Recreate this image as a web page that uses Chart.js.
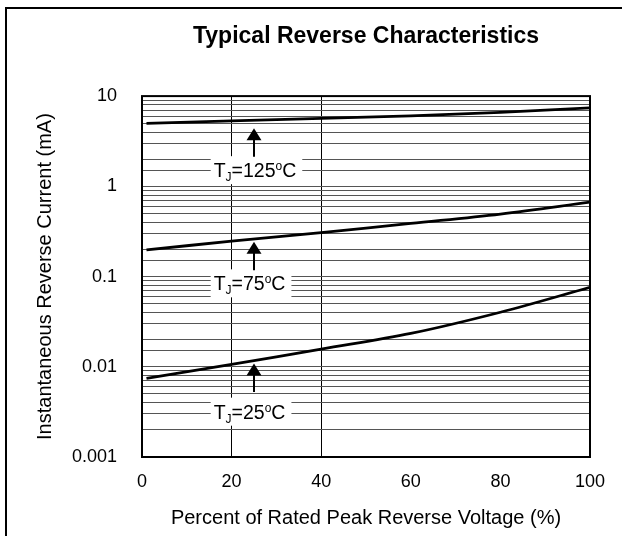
<!DOCTYPE html>
<html><head><meta charset="utf-8">
<script src="https://cdn.jsdelivr.net/npm/chart.js@4"></script>
<style>
html,body{margin:0;padding:0;background:#fff;}
#wrap{position:relative;width:622px;height:536px;overflow:hidden;background:#fff;}
#frame{position:absolute;left:5px;top:7px;width:700px;height:700px;border-left:2px solid #000;border-top:2px solid #000;pointer-events:none;}
canvas{position:absolute;left:0;top:0;}
</style></head><body>
<div id="wrap"><canvas id="c" width="622" height="536"></canvas><div id="frame"></div></div>
<script>
// ---- data ----
const xValues = [1, 20, 40, 60, 80, 100];
const current125 = [4.98, 5.32, 5.66, 6.05, 6.60, 7.42];
const current75 = [0.197, 0.247, 0.306, 0.388, 0.493, 0.669];
const current25 = [0.00745, 0.0106, 0.0157, 0.0234, 0.0402, 0.0759];
const yTickLabels = ['0.001', '0.01', '0.1', '1', '10'];
const xTickLabels = ['0', '20', '40', '60', '80', '100'];
const xGridValues = [20, 40];
const annTemps = ['125', '75', '25'];
const annArrowX = [25, 25, 25];
const annTipY = [4.39, 0.243, 0.0109];
const annTextX = [16, 16, 16];
const annTextY = [1.51, 0.0841, 0.00318];

const FONT = '"Liberation Sans", Arial, sans-serif';

function pts(ys) { return xValues.map((x, i) => ({x: x, y: ys[i]})); }

const annotationPlugin = {
  id: 'ann',
  afterDatasetsDraw(chart) {
    const {ctx, scales: {x, y}} = chart;
    ctx.save();
    annTemps.forEach((t, i) => {
      const ax = Math.round(x.getPixelForValue(annArrowX[i]));
      const tip = y.getPixelForValue(annTipY[i]);
      const tx = x.getPixelForValue(annTextX[i]);
      const tyc = y.getPixelForValue(annTextY[i]);
      const big = '19.5px ' + FONT, small = '12px ' + FONT;
      const parts = [
        {s: 'T', f: big, dy: 0},
        {s: 'J', f: small, dy: 4},
        {s: '=' + t, f: big, dy: 0},
        {s: 'o', f: small, dy: -7},
        {s: 'C', f: big, dy: 0}
      ];
      let w = 0;
      parts.forEach(p => { ctx.font = p.f; p.w = ctx.measureText(p.s).width; w += p.w; });
      ctx.fillStyle = '#fff';
      ctx.fillRect(tx - 3, tyc - 14, w + 9, 28);
      ctx.fillStyle = '#000';
      ctx.textBaseline = 'alphabetic';
      ctx.textAlign = 'left';
      let cx = tx;
      const base = tyc + 7;
      parts.forEach(p => { ctx.font = p.f; ctx.fillText(p.s, cx, base + p.dy); cx += p.w; });
      // arrow
      ctx.strokeStyle = '#000';
      ctx.lineWidth = 2;
      ctx.beginPath();
      ctx.moveTo(ax, tip + 10);
      ctx.lineTo(ax, tip + 28.5);
      ctx.stroke();
      ctx.beginPath();
      ctx.moveTo(ax, tip);
      ctx.lineTo(ax - 7.5, tip + 12);
      ctx.lineTo(ax + 7.5, tip + 12);
      ctx.closePath();
      ctx.fill();
    });
    ctx.restore();
  },
  afterDraw(chart) {
    const {ctx, chartArea: a} = chart;
    ctx.save();
    ctx.strokeStyle = '#000';
    ctx.lineWidth = 2;
    ctx.strokeRect(a.left, a.top, a.right - a.left, a.bottom - a.top);
    ctx.restore();
  }
};

const lineStyle = {borderColor: '#000', borderWidth: 2.8, pointRadius: 0, fill: false, tension: 0.35};

new Chart(document.getElementById('c'), {
  type: 'line',
  data: {
    datasets: [
      Object.assign({label: 'TJ=125°C', data: pts(current125)}, lineStyle),
      Object.assign({label: 'TJ=75°C', data: pts(current75)}, lineStyle),
      Object.assign({label: 'TJ=25°C', data: pts(current25)}, lineStyle)
    ]
  },
  options: {
    responsive: false,
    animation: false,
    devicePixelRatio: 1,
    layout: {padding: {left: 0, right: 32, top: 0, bottom: 0}},
    plugins: {
      legend: {display: false},
      tooltip: {enabled: false},
      title: {
        display: true,
        text: 'Typical Reverse Characteristics',
        fullSize: false,
        color: '#000',
        font: {family: FONT, size: 23, weight: 'bold'},
        padding: {top: 22.5, bottom: 46}
      }
    },
    scales: {
      x: {
        type: 'linear',
        min: 0, max: 100,
        afterFit(s) { s.height = 79; },
        afterBuildTicks(s) { s.ticks = xTickLabels.map(v => ({value: Number(v)})); },
        border: {display: false},
        grid: {
          drawTicks: false,
          lineWidth: 1,
          color: c => (c.tick && xGridValues.includes(c.tick.value)) ? '#000' : 'rgba(0,0,0,0)'
        },
        ticks: {
          color: '#000',
          padding: 14,
          maxRotation: 0,
          font: {family: FONT, size: 18},
          callback: (v) => xTickLabels[xTickLabels.indexOf(String(v))] ?? ''
        },
        title: {
          display: true,
          text: 'Percent of Rated Peak Reverse Voltage (%)',
          color: '#000',
          font: {family: FONT, size: 20},
          padding: {top: 0, bottom: 6}
        }
      },
      y: {
        type: 'logarithmic',
        min: 0.001, max: 10,
        afterFit(s) { s.width = 142; },
        border: {display: false},
        grid: {
          drawTicks: false,
          lineWidth: 1,
          color: '#555'
        },
        ticks: {
          autoSkip: false,
          color: '#000',
          padding: 25,
          font: {family: FONT, size: 18},
          callback: (v) => {
            const l = Math.log10(v);
            if (Math.abs(l - Math.round(l)) < 1e-6) {
              const idx = Math.round(l) + 3;
              return yTickLabels[idx] ?? '';
            }
            return '';
          }
        },
        title: {
          display: true,
          text: 'Instantaneous Reverse Current (mA)',
          color: '#000',
          font: {family: FONT, size: 20},
          padding: {top: 33, bottom: 0}
        }
      }
    }
  },
  plugins: [annotationPlugin]
});
</script>
</body></html>
